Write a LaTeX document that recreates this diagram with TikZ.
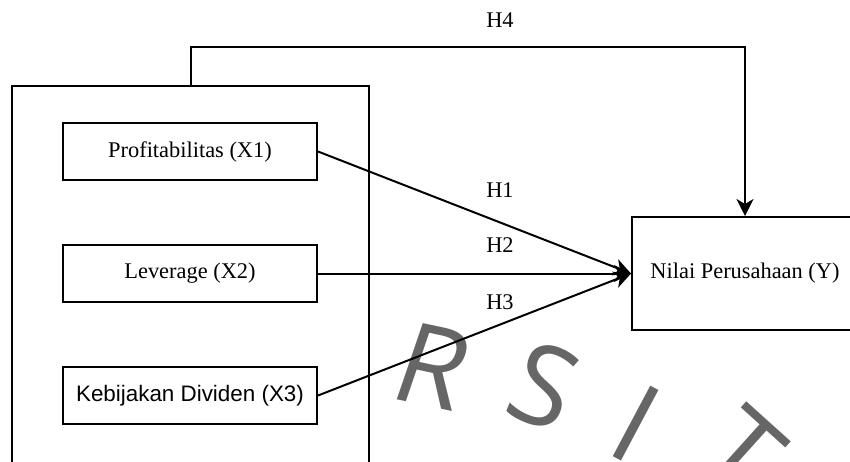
\documentclass[tikz,border=0pt]{standalone}
\usepackage{fontspec}
\setmainfont{Liberation Serif}
\newfontfamily\arialfont{Liberation Sans}
\newfontfamily\markfont{Open Sans}
\usetikzlibrary{arrows.meta}

\begin{document}
\begin{tikzpicture}[x=0.5pt,y=-0.5pt,line width=1pt,font=\fontsize{11.2}{13.4}\selectfont,
    >={Stealth[length=8.5pt,width=8.5pt,inset=2.5pt]}]

    \clip (0,0) rectangle (850,461);

    \begin{scope}[every node/.style={text=black!60,inner sep=0pt,font=\markfont\fontsize{56}{60}\selectfont}]
        \node[rotate=-12,xslant=0.12] (wr) at (433,367) {R}; % Watermark %
        \node[rotate=-22] (ws) at (544,386) {S};
        \node[rotate=-28] (wi) at (636,424) {I};
        \node[rotate=-42] (wt) at (742,452) {T};
    \end{scope}

    \begin{scope}[every node/.style={draw,rectangle,inner sep=0pt,line width=1pt}]
        \node[minimum width=178.5pt,minimum height=197pt] (outer) at (190.5,283) {};
        \node[minimum width=127pt,minimum height=28.5pt] (x1) at (190,151.5) {Profitabilitas (X1)};
        \node[minimum width=127pt,minimum height=28.5pt] (x2) at (190,273.5) {Leverage (X2)};
        \node[minimum width=127pt,minimum height=28.5pt,font=\arialfont\fontsize{11.2}{13.4}\selectfont] (x3) at (190,395.5) {Kebijakan Dividen (X3)};
        \node[minimum width=113pt,minimum height=56.5pt] (y) at (745,273.5) {Nilai Perusahaan (Y)};
    \end{scope}

    \begin{scope}[every edge/.style={draw,line width=1pt}]
        \path [->] (x1.east) edge (y.west);
        \path [->] (x2.east) edge (y.west);
        \path [->] (x3.east) edge (y.west);
    \end{scope}
    \draw [->] (outer.north) -- ++(0,-38) -| (y.north);

    \node (h4) at (500,20) {H4};
    \node (h1) at (500,190) {H1};
    \node (h2) at (500,245) {H2};
    \node (h3) at (500,302) {H3};

\end{tikzpicture}
\end{document}
